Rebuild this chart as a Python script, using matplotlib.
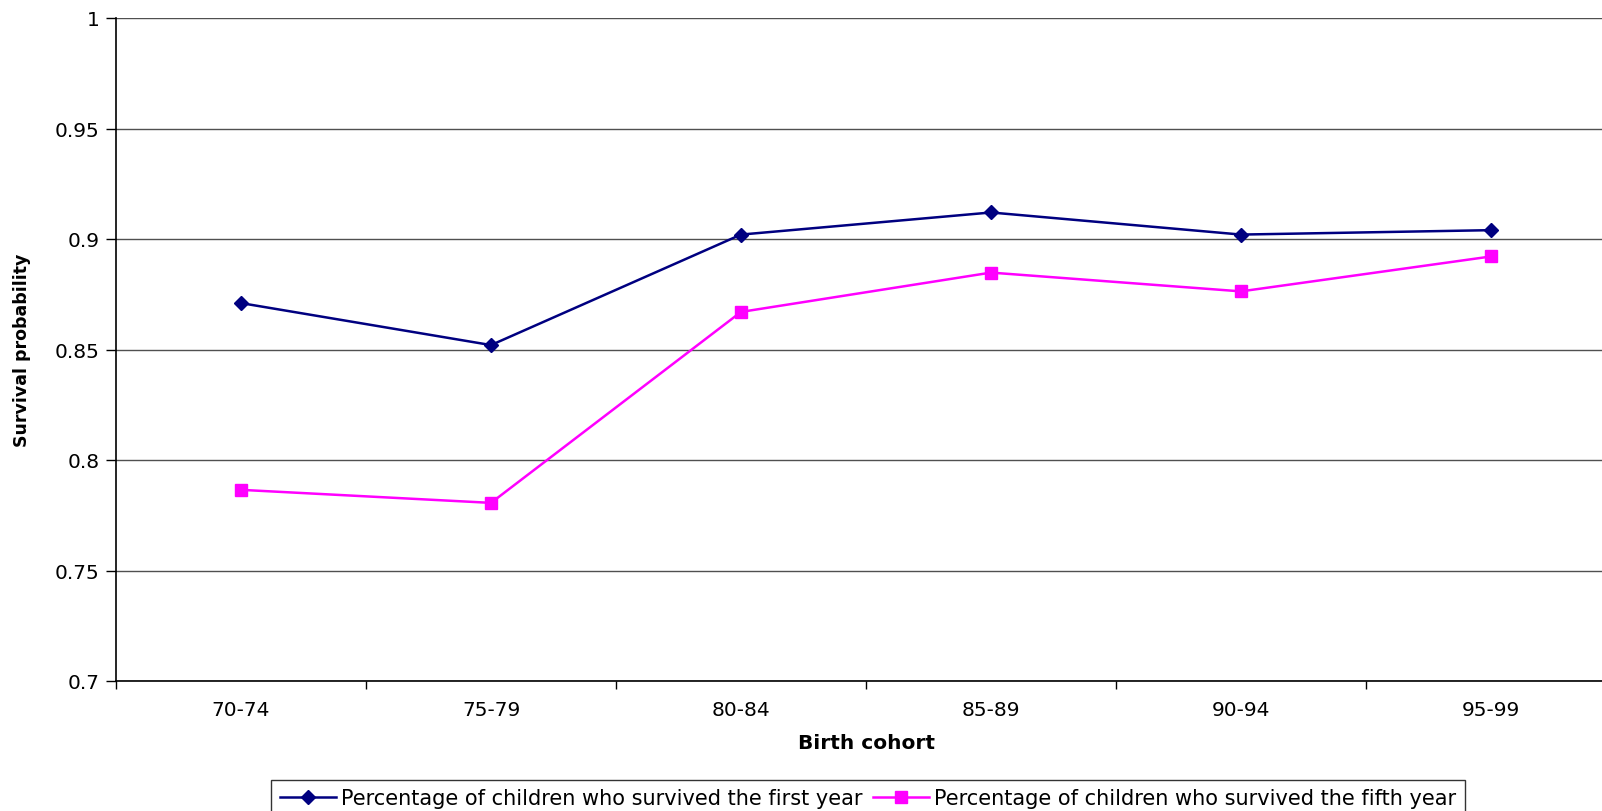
import matplotlib.pyplot as plt

plt.rcParams['font.family'] = ['DejaVu Sans']

cohorts = ['70-74', '75-79', '80-84', '85-89', '90-94', '95-99']
first_year = [0.871, 0.852, 0.902, 0.912, 0.902, 0.904]
fifth_year = [0.7865, 0.7806, 0.867, 0.8848, 0.8763, 0.8921]
yticks = [0.7, 0.75, 0.8, 0.85, 0.9, 0.95, 1.0]
ytick_labels = ['0.7', '0.75', '0.8', '0.85', '0.9', '0.95', '1']

W, H = 1602, 812
fig = plt.figure(figsize=(W / 100, H / 100), dpi=100)
# plot area runs past the right edge like the original (cropped)
left, top, bottom, right = 116, 19, 682, 1616
ax = fig.add_axes([left / W, 1 - bottom / H, (right - left) / W, (bottom - top) / H])

x = list(range(len(cohorts)))
ax.plot(x, first_year, color='#000080', lw=1.8, marker='D', ms=7,
        label='Percentage of children who survived the first year')
ax.plot(x, fifth_year, color='#FF00FF', lw=1.8, marker='s', ms=9,
        label='Percentage of children who survived the fifth year')

ax.set_xlim(-0.5, len(cohorts) - 0.5)
ax.set_ylim(0.7, 1.0)
ax.set_yticks(yticks)
ax.set_yticklabels(ytick_labels)
ax.set_xticks(x)
ax.set_xticklabels(cohorts)
ax.set_xticks([i + 0.5 for i in range(-1, len(cohorts))], minor=True)
ax.tick_params(axis='x', which='major', length=0, pad=14, labelsize=14.5)
ax.tick_params(axis='x', which='minor', length=6, width=1, direction='out')
ax.tick_params(axis='y', length=7, width=1, direction='out', pad=5, labelsize=14.5)

ax.grid(axis='y', color='#505050', lw=1)
ax.set_axisbelow(True)
for s in ['top', 'right']:
    ax.spines[s].set_visible(False)
ax.spines['left'].set_linewidth(1.2)
ax.spines['bottom'].set_linewidth(1.2)

ax.set_xlabel('Birth cohort', fontsize=14.5, fontweight='bold', labelpad=10)
fig.text(22 / W, 1 - 350 / H, 'Survival probability', rotation=90, fontsize=12.5,
         fontweight='bold', ha='center', va='center')

leg = fig.legend(loc='upper center', bbox_to_anchor=(868 / W, 1 - 781 / H), ncol=2,
                 fontsize=15, frameon=True, fancybox=False, edgecolor='black',
                 handlelength=2.7, handletextpad=0.25, columnspacing=0.5,
                 borderpad=0.4, borderaxespad=0, numpoints=1)
leg.get_frame().set_linewidth(1)

fig.savefig('out.png', dpi=100)
